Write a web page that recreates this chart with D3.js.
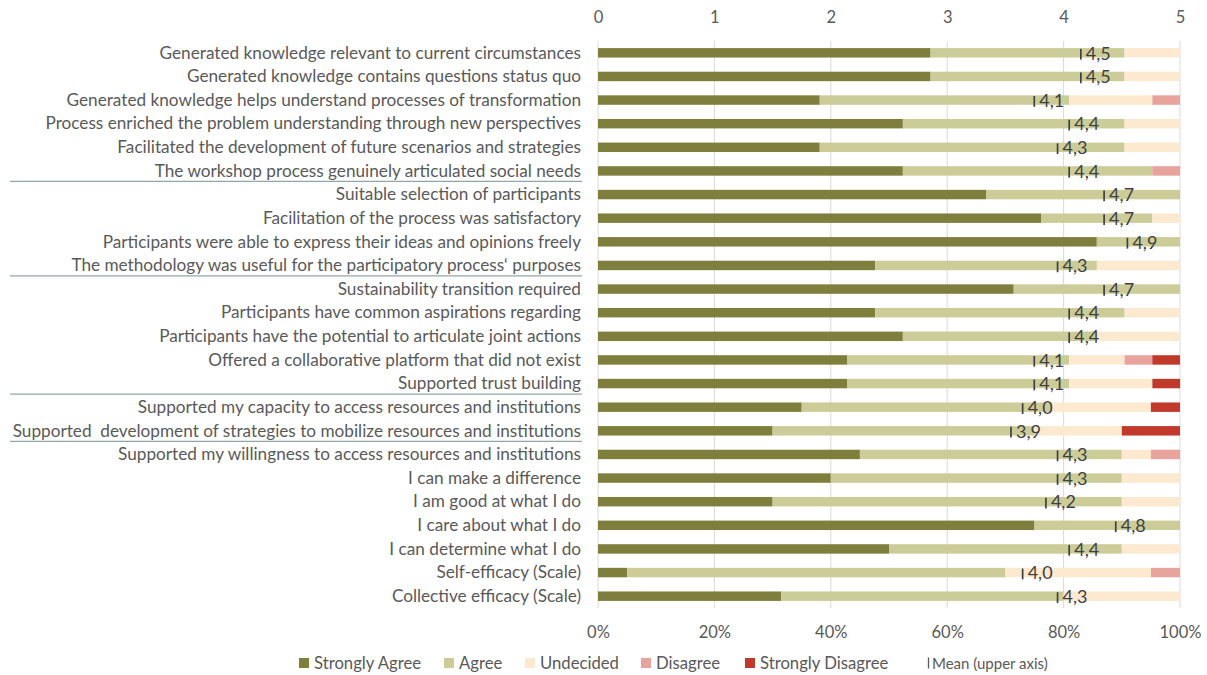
<!DOCTYPE html>
<html>
<head>
<meta charset="utf-8">
<script src="https://cdn.jsdelivr.net/npm/d3@7/dist/d3.min.js"></script>
<style>
  body { margin: 0; background: #ffffff; }
  svg text { font-family: Lato, "Open Sans", "DejaVu Sans", sans-serif; }
</style>
</head>
<body>
<svg id="chart" width="1207" height="675"></svg>
<script>
// Survey items, top to bottom
const categories = [
  "Generated knowledge relevant to current circumstances",
  "Generated knowledge contains questions status quo",
  "Generated knowledge helps understand processes of transformation",
  "Process enriched the problem understanding through new perspectives",
  "Facilitated the development of future scenarios and strategies",
  "The workshop process genuinely articulated social needs",
  "Suitable selection of participants",
  "Facilitation of the process was satisfactory",
  "Participants were able to express their ideas and opinions freely",
  "The methodology was useful for the participatory process\u2018 purposes",
  "Sustainability transition required",
  "Participants have common aspirations regarding",
  "Participants have the potential to articulate joint actions",
  "Offered a collaborative platform that did not exist",
  "Supported trust building",
  "Supported my capacity to access resources and institutions",
  "Supported  development of strategies to mobilize resources and institutions",
  "Supported my willingness to access resources and institutions",
  "I can make a difference",
  "I am good at what I do",
  "I care about what I do",
  "I can determine what I do",
  "Self-efficacy (Scale)",
  "Collective efficacy (Scale)"
];

// Share of responses per item (%)
const stronglyAgree    = [57.14, 57.14, 38.10, 52.38, 38.10, 52.38, 66.67, 76.19, 85.71, 47.62, 71.43, 47.62, 52.38, 42.86, 42.86, 35, 30, 45, 40, 30, 75, 50, 5, 31.5];
const agree            = [33.33, 33.33, 42.86, 38.10, 52.38, 42.86, 33.33, 19.05, 14.29, 38.10, 28.57, 42.86, 33.33, 38.10, 38.10, 43, 45, 45, 50, 60, 25, 40, 65, 48.5];
const undecided        = [9.52, 9.52, 14.29, 9.52, 9.52, 0, 0, 4.76, 0, 14.29, 0, 9.52, 14.29, 9.52, 14.29, 17, 15, 5, 10, 10, 0, 10, 25, 20];
const disagree         = [0, 0, 4.76, 0, 0, 4.76, 0, 0, 0, 0, 0, 0, 0, 4.76, 0, 0, 0, 5, 0, 0, 0, 0, 5, 0];
const stronglyDisagree = [0, 0, 0, 0, 0, 0, 0, 0, 0, 0, 0, 0, 0, 4.76, 4.76, 5, 10, 0, 0, 0, 0, 0, 0, 0];

// Mean score per item (upper axis, 0-5)
const meanScores = [4.5, 4.5, 4.1, 4.4, 4.3, 4.4, 4.7, 4.7, 4.9, 4.3, 4.7, 4.4, 4.4, 4.1, 4.1, 4.0, 3.9, 4.3, 4.3, 4.2, 4.8, 4.4, 4.0, 4.3];

// Items that close a block of questions (underlined)
const blockEnds = [
  "The workshop process genuinely articulated social needs",
  "The methodology was useful for the participatory process\u2018 purposes",
  "Supported trust building",
  "Supported  development of strategies to mobilize resources and institutions"
];

const levels = ["Strongly Agree", "Agree", "Undecided", "Disagree", "Strongly Disagree"];
const levelColors = ["#7f7f3d", "#cccc99", "#fde9d0", "#e8a39d", "#c0392b"];
const pctTicks = [0, 20, 40, 60, 80, 100];
const meanTicks = [0, 1, 2, 3, 4, 5];

const rows = categories.map((c, i) => ({
  item: c,
  "Strongly Agree": stronglyAgree[i],
  "Agree": agree[i],
  "Undecided": undecided[i],
  "Disagree": disagree[i],
  "Strongly Disagree": stronglyDisagree[i],
  mean: meanScores[i]
}));

const svg = d3.select("#chart");
const plotL = 598, plotR = 1180, plotT = 41, plotB = 608;

const xPct = d3.scaleLinear().domain([0, 100]).range([plotL, plotR]);
const xMean = d3.scaleLinear().domain([0, 5]).range([plotL, plotR]);
const y = d3.scaleBand().domain(categories).range([plotT, plotB])
  .paddingInner(0.6).paddingOuter(0.3);
const color = d3.scaleOrdinal().domain(levels).range(levelColors);

// vertical gridlines
svg.append("g").selectAll("line").data(pctTicks).join("line")
  .attr("x1", d => xPct(d)).attr("x2", d => xPct(d))
  .attr("y1", plotT).attr("y2", plotB)
  .attr("stroke", "#d9d9d9").attr("stroke-width", 1);

// upper axis (mean)
const topAxis = svg.append("g").attr("transform", "translate(0,23)")
  .call(d3.axisTop(xMean).tickValues(meanTicks).tickSize(0).tickPadding(0).tickFormat(d3.format("d")));
topAxis.select(".domain").remove();
topAxis.selectAll("text").attr("fill", "#595959").style("font-size", "16.5px")
  .style("font-family", "Lato, sans-serif").attr("dy", "0");

// lower axis (percent)
const botAxis = svg.append("g").attr("transform", "translate(0,638)")
  .call(d3.axisBottom(xPct).tickValues(pctTicks).tickSize(0).tickPadding(0).tickFormat(d => d + "%"));
botAxis.select(".domain").remove();
botAxis.selectAll("text").attr("fill", "#595959").style("font-size", "16.5px")
  .style("font-family", "Lato, sans-serif").attr("dy", "0");

// stacked bars
const series = d3.stack().keys(levels)(rows);
svg.append("g").selectAll("g").data(series).join("g")
  .attr("fill", d => color(d.key))
  .selectAll("rect").data(d => d).join("rect")
  .attr("x", d => xPct(d[0]))
  .attr("width", d => Math.max(0, xPct(d[1]) - xPct(d[0])))
  .attr("y", d => y(d.data.item))
  .attr("height", y.bandwidth());

// category labels
svg.append("g").selectAll("text").data(categories).join("text")
  .attr("x", 581)
  .attr("y", d => y(d) + y.bandwidth() / 2 + 5.8)
  .attr("text-anchor", "end")
  .attr("fill", "#595959")
  .style("font-size", "17.2px")
  .style("white-space", "pre")
  .text(d => d);

// block separators
svg.append("g").selectAll("line").data(blockEnds).join("line")
  .attr("x1", 10).attr("x2", 582)
  .attr("y1", d => y(d) + y.bandwidth() / 2 + 10.5)
  .attr("y2", d => y(d) + y.bandwidth() / 2 + 10.5)
  .attr("stroke", "#8fa8a7").attr("stroke-width", 1.3);

// mean markers with labels (placed just left of the mean position)
const fmt = v => d3.format(".1f")(v).replace(".", ",");
const meanG = svg.append("g").selectAll("g").data(rows).join("g");
meanG.append("text")
  .attr("x", d => xMean(d.mean) - 11)
  .attr("y", d => y(d.item) + y.bandwidth() / 2 + 6.8)
  .attr("text-anchor", "end")
  .attr("fill", "#404040")
  .style("font-size", "18px")
  .text(d => fmt(d.mean));
meanG.each(function(d) {
  const g = d3.select(this);
  const w = g.select("text").node().getComputedTextLength();
  const xb = xMean(d.mean) - 11 - w - 5;
  const cy = y(d.item) + y.bandwidth() / 2;
  g.append("line")
    .attr("x1", xb).attr("x2", xb)
    .attr("y1", cy - 4).attr("y2", cy + 6.8)
    .attr("stroke", "#404040").attr("stroke-width", 1.7);
});

// legend
const legendX = [299, 444, 525, 641, 745];
const legY = 663;
const leg = svg.append("g");
levels.forEach((k, i) => {
  leg.append("rect").attr("x", legendX[i]).attr("y", legY - 5).attr("width", 10).attr("height", 10)
    .attr("fill", color(k));
  leg.append("text").attr("x", legendX[i] + 15).attr("y", legY + 6)
    .attr("fill", "#595959").style("font-size", "16.7px").text(k);
});
leg.append("line").attr("x1", 928.5).attr("x2", 928.5).attr("y1", legY - 5.5).attr("y2", legY + 5.5)
  .attr("stroke", "#595959").attr("stroke-width", 1.3);
leg.append("text").attr("x", 932).attr("y", legY + 5.5)
  .attr("fill", "#595959").style("font-size", "15px").text("Mean (upper axis)");
</script>
</body>
</html>
